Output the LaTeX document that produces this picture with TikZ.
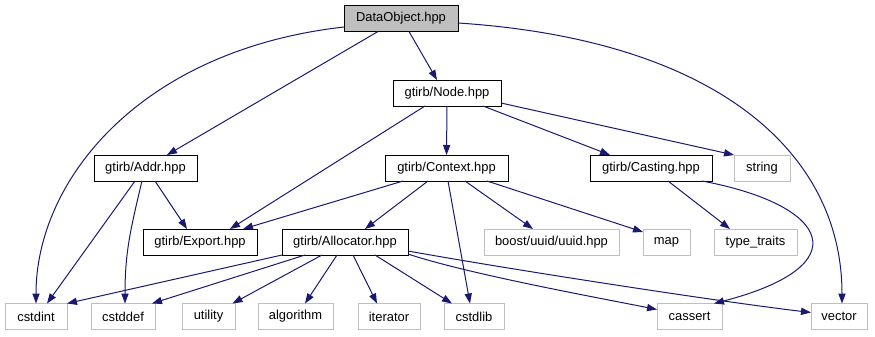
\documentclass[tikz,border=0pt]{standalone}
\usepackage{fontspec}
\setmainfont{Liberation Sans}
\usepackage{tikz}
\usetikzlibrary{arrows.meta,positioning}
\definecolor{edgeblue}{RGB}{25,25,112}
\definecolor{extgrey}{RGB}{191,191,191}
\newdimen\px \px=0.75pt

\begin{document}
\begin{tikzpicture}[x=0.75pt,y=-0.75pt,line width=0.75pt,>={Triangle[length=7.5pt,width=5.4pt]}]
\tikzstyle{hdr}=[draw,fill=white,inner sep=0pt,outer sep=0pt,minimum height=26\px,font=\fontsize{9.7}{11}\selectfont]
\tikzstyle{ext}=[hdr,draw=extgrey]
\tikzstyle{dep}=[->,draw=edgeblue]
\useasboundingbox (0,0) rectangle (875,336);
% headers, row by row
\node[hdr,fill=extgrey,minimum width=114\px] (dobj) at (401,18.5) {DataObject.hpp};
\node[hdr,minimum width=108\px] (nodeh) at (447,93) {gtirb/Node.hpp};
\node[hdr,minimum width=103\px] (addr) at (145.5,168) {gtirb/Addr.hpp};
\node[hdr,minimum width=123\px,right=188\px of addr] (ctx) {gtirb/Context.hpp};
\node[hdr,minimum width=122\px,right=82\px of ctx] (cast) {gtirb/Casting.hpp};
\node[ext,minimum width=56\px,right=22\px of cast] (str) {string};
\node[hdr,minimum width=114\px] (expo) at (200,242) {gtirb/Export.hpp};
\node[hdr,minimum width=126\px,right=25\px of expo] (alloc) {gtirb/Allocator.hpp};
\node[ext,minimum width=135\px,right=76\px of alloc] (uuid) {boost/uuid/uuid.hpp};
\node[ext,minimum width=47\px,right=24\px of uuid] (map) {map};
\node[ext,minimum width=83\px,right=24\px of map] (tt) {type\_traits};
\node[ext,minimum width=62\px] (cstdint) at (36,316.5) {cstdint};
\node[ext,minimum width=64\px,right=24\px of cstdint] (cstddef) {cstddef};
\node[ext,minimum width=53\px,right=27\px of cstddef] (utility) {utility};
\node[ext,minimum width=75\px,right=23\px of utility] (algorithm) {algorithm};
\node[ext,minimum width=62\px,right=25\px of algorithm] (iterator) {iterator};
\node[ext,minimum width=60\px,right=24\px of iterator] (cstdlib) {cstdlib};
\node[ext,minimum width=65\px,right=153\px of cstdlib] (cassert) {cassert};
\node[ext,minimum width=56\px,right=89\px of cassert] (vector) {vector};
% includes of DataObject.hpp
\draw[dep] ([xshift=8\px]dobj.south) -- ([xshift=-10\px]nodeh.north);
\draw[dep] ([xshift=-23\px]dobj.south) -- ([xshift=21.5\px]addr.north);
\draw[dep] ([yshift=-8.5\px]dobj.west) .. controls +(-204,23) and +(0,-123) .. (cstdint.north);
\draw[dep] ([yshift=-4.5\px]dobj.east) .. controls +(260,17) and +(0,-150) .. ([xshift=3\px]vector.north);
% gtirb/Node.hpp
\draw[dep] ([xshift=-22\px]nodeh.south) -- ([xshift=30\px]expo.north);
\draw[dep] (nodeh) -- (ctx);
\draw[dep] ([xshift=36\px]nodeh.south) -- ([xshift=-41\px]cast.north);
\draw[dep] ([yshift=-10\px]nodeh.east) -- (str.north west);
% gtirb/Addr.hpp
\draw[dep] ([xshift=9.5\px]addr.south) -- ([xshift=-13\px]expo.north);
\draw[dep] ([xshift=-10.5\px]addr.south) -- ([xshift=11\px]cstdint.north);
\draw[dep] ([xshift=-3.5\px]addr.south) .. controls +(-12,50) and +(0,-50) .. ([xshift=2\px]cstddef.north);
% gtirb/Context.hpp
\draw[dep] ([xshift=-43.5\px]ctx.south) -- ([xshift=43\px]expo.north);
\draw[dep] ([xshift=-18.5\px]ctx.south) -- ([xshift=20\px]alloc.north);
\draw[dep] ([xshift=1.5\px]ctx.south) -- ([xshift=-4\px]cstdlib.north);
\draw[dep] ([xshift=18.5\px]ctx.south) -- ([xshift=-18.5\px]uuid.north);
\draw[dep] ([xshift=40.5\px]ctx.south) -- ([yshift=-3\px]map.north west);
% gtirb/Casting.hpp
\draw[dep] ([xshift=17\px]cast.south) -- ([xshift=-25.5\px]tt.north);
\draw[dep] ([xshift=51\px]cast.south) .. controls +(128,24) and +(146,-38) .. ([xshift=24.5\px]cassert.north);
% gtirb/Allocator.hpp
\draw[dep] (alloc.south west) -- (cstdint.north east);
\draw[dep] ([xshift=-40\px]alloc.south) -- ([xshift=-3\px]cstddef.north east);
\draw[dep] ([xshift=-23\px]alloc.south) -- ([xshift=24\px]utility.north);
\draw[dep] ([xshift=-8\px]alloc.south) -- ([xshift=9.5\px]algorithm.north);
\draw[dep] ([xshift=8\px]alloc.south) -- ([xshift=-12\px]iterator.north);
\draw[dep] ([xshift=30\px]alloc.south) -- ([xshift=8\px]cstdlib.north west);
\draw[dep] ([yshift=-12\px]alloc.east) .. controls +(60,20) and +(-60,-12) .. ([yshift=7\px]cassert.west);
\draw[dep] ([yshift=-9\px]alloc.east) .. controls +(100,18) and +(-100,-12) .. ([yshift=4\px]vector.west);
\end{tikzpicture}
\end{document}
